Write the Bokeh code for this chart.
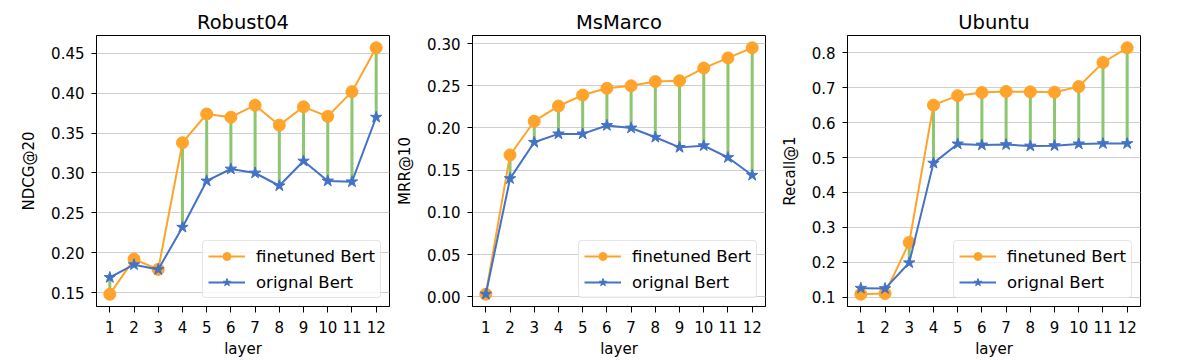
from bokeh.plotting import figure
from bokeh.models import Range1d, FixedTicker, PrintfTickFormatter, Legend, LegendItem
from bokeh.layouts import row
from bokeh.embed import file_html
from bokeh.resources import INLINE

layers = list(range(1, 13))
layer_labels = [str(i) for i in layers]

robust_ft = [0.148, 0.192, 0.179, 0.338, 0.374, 0.370, 0.385, 0.360, 0.383, 0.371, 0.402, 0.457]
robust_orig = [0.169, 0.185, 0.179, 0.232, 0.290, 0.305, 0.300, 0.284, 0.315, 0.290, 0.289, 0.370]
msmarco_ft = [0.003, 0.168, 0.208, 0.226, 0.239, 0.247, 0.250, 0.255, 0.256, 0.271, 0.283, 0.295]
msmarco_orig = [0.003, 0.140, 0.183, 0.193, 0.193, 0.203, 0.200, 0.189, 0.177, 0.179, 0.165, 0.144]
ubuntu_ft = [0.109, 0.111, 0.257, 0.650, 0.677, 0.686, 0.689, 0.688, 0.687, 0.703, 0.772, 0.814]
ubuntu_orig = [0.126, 0.125, 0.199, 0.484, 0.539, 0.536, 0.537, 0.533, 0.534, 0.539, 0.540, 0.540]

titles = ["Robust04", "MsMarco", "Ubuntu"]
ylabels = ["NDCG@20", "MRR@10", "Recall@1"]
robust_ticks = [0.15, 0.20, 0.25, 0.30, 0.35, 0.40, 0.45]
msmarco_ticks = [0.00, 0.05, 0.10, 0.15, 0.20, 0.25, 0.30]
ubuntu_ticks = [0.1, 0.2, 0.3, 0.4, 0.5, 0.6, 0.7, 0.8]
series_labels = ["finetuned Bert", "orignal Bert"]

ORANGE = "#ffa32b"
BLUE = "#4472c4"
GREEN = "#8cc66e"
FONT = "DejaVu Sans"


def panel(title, ylabel, ft, orig, ticks, fmt, left_border, right_border):
    lo = min(min(ft), min(orig))
    hi = max(max(ft), max(orig))
    pad = (hi - lo) * 0.05
    p = figure(
        frame_width=293, frame_height=271,
        min_border_left=left_border, min_border_right=right_border,
        min_border_top=35, min_border_bottom=52,
        x_range=Range1d(0.45, 12.55), y_range=Range1d(lo - pad, hi + pad),
        output_backend="svg", toolbar_location=None,
    )
    p.title.text = title
    p.title.align = "center"
    p.title.text_font = FONT
    p.title.text_font_size = "19.5px"
    p.title.text_font_style = "normal"
    p.title.text_color = "black"
    p.title.standoff = 3

    p.outline_line_color = "black"
    p.outline_line_width = 1
    p.outline_line_alpha = 1
    p.xgrid.visible = False
    p.ygrid.grid_line_color = "#cfcfcf"
    p.ygrid.grid_line_width = 1

    for ax in (p.xaxis[0], p.yaxis[0]):
        ax.axis_line_color = "black"
        ax.major_tick_in = 0
        ax.minor_tick_line_color = None
        ax.major_tick_line_color = "black"
        ax.major_label_text_font = FONT
        ax.major_label_text_font_size = "15px"
        ax.major_label_text_color = "black"
        ax.axis_label_text_font = FONT
        ax.axis_label_text_font_size = "15px"
        ax.axis_label_text_font_style = "normal"
        ax.axis_label_text_color = "black"

    p.xaxis.ticker = FixedTicker(ticks=layers)
    p.xaxis.major_label_overrides = {i: s for i, s in zip(layers, layer_labels)}
    p.xaxis.axis_label = "layer"
    p.xaxis.major_tick_out = 6
    p.xaxis.major_label_standoff = 8
    p.xaxis.axis_label_standoff = 4
    p.yaxis.ticker = FixedTicker(ticks=ticks)
    p.yaxis.formatter = PrintfTickFormatter(format=fmt)
    p.yaxis.axis_label = ylabel
    p.yaxis.major_tick_out = 5
    p.yaxis.major_label_standoff = 7
    p.yaxis.axis_label_standoff = 10

    p.segment(x0=layers, y0=orig, x1=layers, y1=ft, line_color=GREEN, line_width=3)

    l1 = p.line(layers, ft, line_color=ORANGE, line_width=2)
    s1 = p.scatter(layers, ft, marker="circle", size=12, fill_color=ORANGE, line_color=ORANGE)
    l2 = p.line(layers, orig, line_color=BLUE, line_width=2)
    s2 = p.scatter(layers, orig, marker="star", size=12, fill_color=BLUE, line_color=BLUE)

    legend = Legend(items=[
        LegendItem(label=series_labels[0], renderers=[l1, s1]),
        LegendItem(label=series_labels[1], renderers=[l2, s2]),
    ], location="bottom_right")
    legend.margin = 8
    legend.padding = 5
    legend.spacing = 6
    legend.glyph_width = 37
    legend.glyph_height = 20
    legend.label_standoff = 11
    legend.label_text_font = FONT
    legend.label_text_font_size = "16.5px"
    legend.label_text_color = "black"
    legend.border_line_color = "#cccccc"
    legend.border_line_width = 1
    legend.background_fill_color = "white"
    legend.background_fill_alpha = 0.8
    if "border_radius" in Legend.properties():
        legend.border_radius = 4
    p.add_layout(legend, "center")
    return p


p1 = panel(titles[0], ylabels[0], robust_ft, robust_orig, robust_ticks, "%.2f", 96, 3)
p2 = panel(titles[1], ylabels[1], msmarco_ft, msmarco_orig, msmarco_ticks, "%.2f", 80, 2)
p3 = panel(titles[2], ylabels[2], ubuntu_ft, ubuntu_orig, ubuntu_ticks, "%.1f", 80, 10)

p = row(p1, p2, p3)
open("out.html", "w").write(file_html(p, INLINE))
